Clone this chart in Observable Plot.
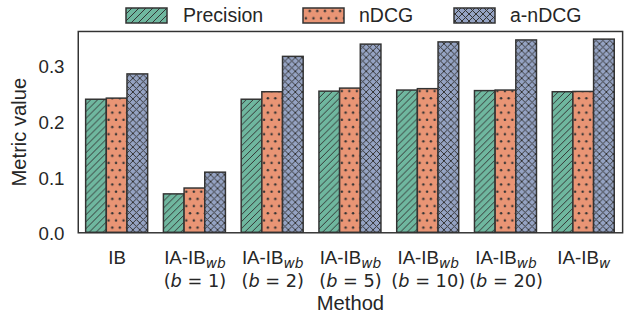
<!DOCTYPE html>
<html><head><meta charset="utf-8">
<script src="https://cdn.jsdelivr.net/npm/d3@7"></script>
<script src="https://cdn.jsdelivr.net/npm/@observablehq/plot@0.6"></script>
<style>
html,body{margin:0;padding:0;background:#fff;overflow:hidden;width:630px;height:320px}
#legend svg,#chart svg{display:block}
</style></head><body>
<svg id="defs" width="0" height="0" style="position:absolute"><defs></defs></svg>
<div id="legend"></div><div id="chart"></div>
<script>
// ---- data ----
const metrics = ["Precision", "nDCG", "a-nDCG"];
const methodBase = ["IB", "IA-IB", "IA-IB", "IA-IB", "IA-IB", "IA-IB", "IA-IB"];
const methodSub = ["", "wb", "wb", "wb", "wb", "wb", "w"];
const methodParam = ["", "1", "2", "5", "10", "20", ""];
const precision = [0.239, 0.069, 0.239, 0.2535, 0.2555, 0.2545, 0.2525];
const ndcg = [0.241, 0.0795, 0.2525, 0.259, 0.258, 0.2555, 0.253];
const andcg = [0.2845, 0.108, 0.316, 0.338, 0.342, 0.3455, 0.347];
const yTicks = [0, 0.1, 0.2, 0.3];
const yMax = 0.3616;
const colors = ["#6fb79f", "#e99575", "#95a3c3"];
const ink = "#333333";

const methods = methodBase.map((b, i) => b + (methodSub[i] ? "_" + methodSub[i] : "") + (methodParam[i] ? " (b=" + methodParam[i] + ")" : ""));
const series = [precision, ndcg, andcg];
const rows = [];
metrics.forEach((m, k) => methods.forEach((meth, i) => rows.push({method: meth, metric: m, value: series[k][i]})));

// ---- hatch patterns ----
const defs = d3.select("#defs defs");
function pattern(id, w, h, color) {
  const p = defs.append("pattern").attr("id", id).attr("patternUnits", "userSpaceOnUse").attr("width", w).attr("height", h);
  p.append("rect").attr("width", w).attr("height", h).attr("fill", color);
  return p;
}
const p0 = pattern("hatch-0", 7, 7, colors[0]);
p0.append("path").attr("d", "M-1,1 l2,-2 M0,7 l7,-7 M6,8 l2,-2").attr("stroke", ink).attr("stroke-width", 1);
const p1 = pattern("hatch-1", 7.6, 14.6, colors[1]);
p1.append("circle").attr("cx", 1.9).attr("cy", 3.65).attr("r", 1.25).attr("fill", ink);
p1.append("circle").attr("cx", 5.7).attr("cy", 10.95).attr("r", 1.25).attr("fill", ink);
const p2 = pattern("hatch-2", 7, 7, colors[2]);
p2.append("path").attr("d", "M-1,1 l2,-2 M0,7 l7,-7 M6,8 l2,-2 M-1,6 l2,2 M0,0 l7,7 M6,-1 l2,2").attr("stroke", ink).attr("stroke-width", 1);

// ---- legend ----
const leg = d3.select("#legend").append("svg").attr("width", 630).attr("height", 30)
  .style("font-family", "'Liberation Sans', Arial, sans-serif").style("font-size", "19.5px");
const legPatchX = [126, 303, 454];
const legTextX = [183, 359, 510];
metrics.forEach((m, k) => {
  leg.append("rect").attr("x", legPatchX[k]).attr("y", 8).attr("width", 41).attr("height", 15)
    .attr("fill", `url(#hatch-${k})`).attr("stroke", ink).attr("stroke-width", 1.5);
  leg.append("text").attr("x", legTextX[k]).attr("y", 15.5).attr("dy", "0.35em").attr("fill", "#262626").text(m);
});

// ---- chart ----
const chart = Plot.plot({
  width: 640, height: 290,
  marginLeft: 77, marginRight: 7, marginTop: 1, marginBottom: 84.5,
  style: {fontFamily: "'Liberation Sans', Arial, sans-serif", fontSize: "19px", color: "#262626", background: "white"},
  fx: {domain: methods, padding: 0, axis: "bottom", tickSize: 0, tickPadding: 18, label: "Method", labelAnchor: "center", labelOffset: 78},
  x: {domain: metrics, paddingInner: 0, paddingOuter: 0.375, axis: null},
  y: {domain: [0, yMax], ticks: yTicks, tickFormat: ".1f", tickSize: 0, tickPadding: 14, label: "Metric value", labelAnchor: "center", labelOffset: 68, labelArrow: "none"},
  marks: [
    ...metrics.map((m, k) => Plot.barY(rows.filter(d => d.metric === m), {fx: "method", x: "metric", y: "value", fill: `url(#hatch-${k})`, stroke: ink, strokeWidth: 1.5})),
    Plot.frame({facet: "super", stroke: ink, strokeWidth: 1.5})
  ]
});
document.getElementById("chart").appendChild(chart);

// ---- rich tick labels (subscripts, math line) and label sizes ----
const NS = "http://www.w3.org/2000/svg";
function ts(parent, text, attrs) {
  const e = document.createElementNS(NS, "tspan");
  for (const k in attrs) e.setAttribute(k, attrs[k]);
  if (text != null) e.textContent = text;
  parent.appendChild(e);
  return e;
}
const yLabels = yTicks.map(d3.format(".1f"));
chart.querySelectorAll("text").forEach(t => {
  if (t.textContent === "Method" || t.textContent === "Metric value") {
    t.setAttribute("font-size", "20.5px");
    return;
  }
  if (yLabels.includes(t.textContent)) {
    t.setAttribute("dy", 1.5);
    return;
  }
  const i = methods.indexOf(t.textContent);
  if (i < 0) return;
  const x0 = t.getAttribute("x") || 0;
  t.textContent = "";
  ts(t, methodBase[i], {x: x0});
  let shift = 0;
  if (methodSub[i]) {
    shift = 4;
    ts(t, methodSub[i], {dy: shift, "font-style": "italic", "font-family": "'DejaVu Sans', sans-serif", "font-size": "14px"});
  }
  if (methodParam[i]) {
    ts(t, "(", {x: x0, dy: 24 - shift, "font-family": "'DejaVu Sans', sans-serif", "font-size": "18px"});
    ts(t, "b", {"font-style": "italic", "font-family": "'DejaVu Sans', sans-serif", "font-size": "18px"});
    ts(t, " = " + methodParam[i] + ")", {"font-family": "'DejaVu Sans', sans-serif", "font-size": "18px"});
  }
});
</script>
</body></html>
